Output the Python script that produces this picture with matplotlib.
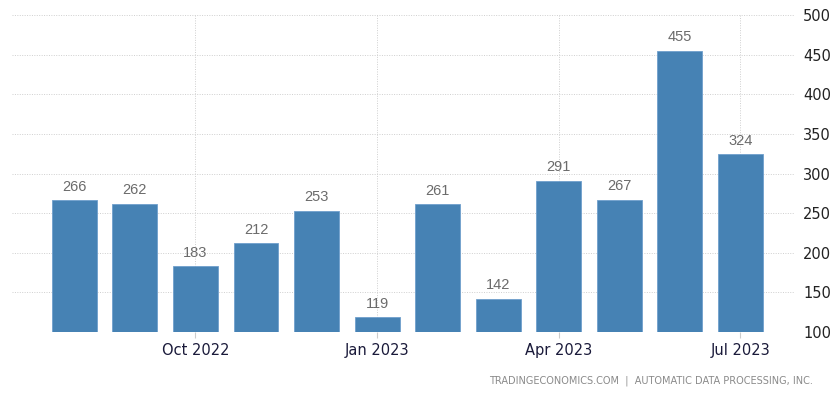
import matplotlib
matplotlib.use("Agg")
import matplotlib.pyplot as plt

months = ["Aug 2022", "Sep 2022", "Oct 2022", "Nov 2022", "Dec 2022", "Jan 2023",
          "Feb 2023", "Mar 2023", "Apr 2023", "May 2023", "Jun 2023", "Jul 2023"]
values = [266, 262, 183, 212, 253, 119, 261, 142, 291, 267, 455, 324]
xtick_labels = ["Oct 2022", "Jan 2023", "Apr 2023", "Jul 2023"]
yticks = [100, 150, 200, 250, 300, 350, 400, 450, 500]

fig = plt.figure(figsize=(8.32, 3.96), dpi=100)
ax = fig.add_axes([0.0144, 0.1616, 0.941, 0.8005])

x = list(range(len(values)))
bars = ax.bar(x, [v - 100 for v in values], bottom=100, width=0.74,
              color="#4682b4", edgecolor="#6f9fcc", linewidth=0.6, zorder=3)
for xi, v in zip(x, values):
    ax.text(xi, v + 8, str(v), ha="center", va="bottom", fontsize=10.5,
            color="#6b6b6b", family="Liberation Sans", zorder=4)

ax.set_ylim(100, 500)
ax.set_xlim(-1.03, 11.9)
ax.set_yticks(yticks)
ax.yaxis.tick_right()
ax.tick_params(axis="y", length=0, pad=6, labelsize=10.5, labelcolor="#222222")
tick_pos = [months.index(m) for m in xtick_labels]
ax.set_xticks(tick_pos)
ax.set_xticklabels(xtick_labels)
ax.tick_params(axis="x", length=4, color="#cccccc", pad=4, labelsize=10.5,
               labelcolor="#1a1a3a")
for lbl in ax.get_xticklabels() + ax.get_yticklabels():
    lbl.set_family("DejaVu Sans")

ax.grid(True, axis="both", linestyle=(0, (1, 1.5)), color="#cfcfcf", linewidth=0.7, zorder=0)
for s in ax.spines.values():
    s.set_visible(False)

fig.text(0.977, 0.038, "TRADINGECONOMICS.COM  |  AUTOMATIC DATA PROCESSING, INC.",
         ha="right", va="center", fontsize=7, color="#8a8a8a", family="DejaVu Sans")

fig.savefig("out.png", dpi=100)
